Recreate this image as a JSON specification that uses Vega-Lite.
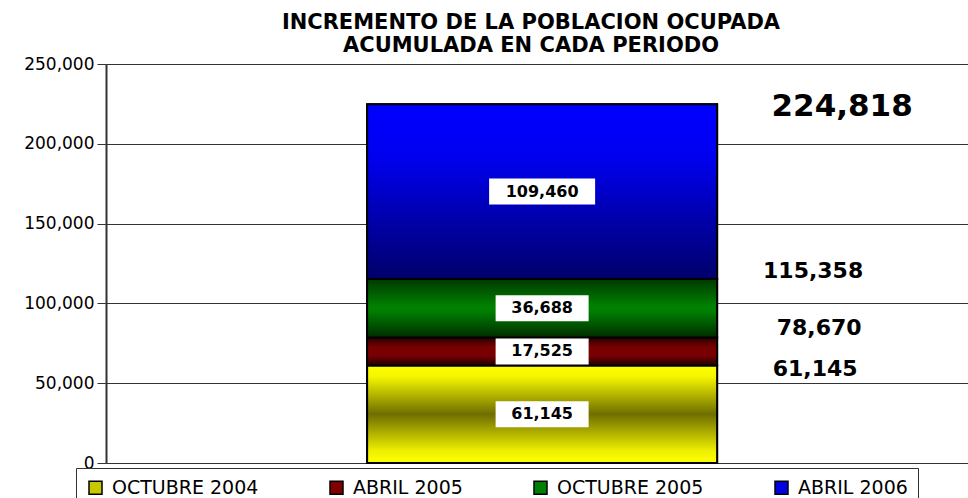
{
  "$schema": "https://vega.github.io/schema/vega-lite/v6.json",
  "width": 862,
  "height": 399,
  "autosize": {"type": "none"},
  "padding": {"left": 106, "top": 64, "right": 0, "bottom": 35},
  "background": "white",
  "title": {
    "text": ["INCREMENTO DE LA POBLACION OCUPADA", "ACUMULADA EN CADA PERIODO"],
    "font": "DejaVu Sans",
    "fontSize": 21,
    "fontWeight": "bold",
    "color": "black",
    "anchor": "middle",
    "frame": "group",
    "dx": -6,
    "offset": -1,
    "lineHeight": 23
  },
  "data": {
    "values": [
      {"grupo": "Total", "periodo": "OCTUBRE 2004", "orden": 1, "valor": 61145},
      {"grupo": "Total", "periodo": "ABRIL 2005", "orden": 2, "valor": 17525},
      {"grupo": "Total", "periodo": "OCTUBRE 2005", "orden": 3, "valor": 36688},
      {"grupo": "Total", "periodo": "ABRIL 2006", "orden": 4, "valor": 109460}
    ]
  },
  "transform": [
    {"stack": "valor", "groupby": ["grupo"], "sort": [{"field": "orden", "order": "ascending"}], "as": ["y0", "y1"]},
    {"calculate": "(datum.y0 + datum.y1) / 2", "as": "ymedio"}
  ],
  "encoding": {
    "x": {
      "field": "grupo",
      "type": "nominal",
      "axis": null,
      "scale": {"paddingInner": 0, "paddingOuter": 0.7314, "align": 0.51}
    }
  },
  "layer": [
    {
      "mark": {"type": "bar", "stroke": "black", "strokeWidth": 2},
      "encoding": {
        "y": {
          "field": "y0",
          "type": "quantitative",
          "title": null,
          "scale": {"domain": [0, 250000], "nice": false, "zero": true},
          "axis": {"values": [0, 50000, 100000, 150000, 200000, 250000], "format": ",.0f", "title": null}
        },
        "y2": {"field": "y1"},
        "color": {
          "field": "periodo",
          "type": "nominal",
          "sort": ["OCTUBRE 2004", "ABRIL 2005", "OCTUBRE 2005", "ABRIL 2006"],
          "scale": {
            "domain": ["OCTUBRE 2004", "ABRIL 2005", "OCTUBRE 2005", "ABRIL 2006"],
            "range": ["#c8c800", "#800000", "#008000", "#0000e0"]
          },
          "legend": {
            "title": null,
            "orient": "none",
            "legendX": -30,
            "legendY": 404,
            "direction": "horizontal",
            "symbolType": "square",
            "symbolSize": 169,
            "symbolStrokeColor": "black",
            "symbolStrokeWidth": 1.5,
            "symbolOpacity": 1,
            "labelFont": "DejaVu Sans",
            "labelFontSize": 19,
            "labelColor": "black",
            "labelOffset": 7,
            "columnPadding": 68,
            "padding": 10,
            "strokeColor": "#333333",
            "fillColor": "white"
          }
        }
      }
    },
    {
      "transform": [{"filter": "datum.orden == 1"}],
      "mark": {
        "type": "bar", "stroke": "black", "strokeWidth": 2,
        "fill": {"gradient": "linear", "x1": 0, "y1": 0, "x2": 0, "y2": 1,
          "stops": [{"offset": 0, "color": "#ffff00"}, {"offset": 0.12, "color": "#f4f400"}, {"offset": 0.5, "color": "#6e6e00"}, {"offset": 0.88, "color": "#f0f000"}, {"offset": 1, "color": "#ffff00"}]}
      },
      "encoding": {"y": {"field": "y0", "type": "quantitative", "title": null}, "y2": {"field": "y1"}}
    },
    {
      "transform": [{"filter": "datum.orden == 2"}],
      "mark": {
        "type": "bar", "stroke": "black", "strokeWidth": 2,
        "fill": {"gradient": "linear", "x1": 0, "y1": 0, "x2": 0, "y2": 1,
          "stops": [{"offset": 0, "color": "#2a0000"}, {"offset": 0.35, "color": "#780000"}, {"offset": 0.65, "color": "#780000"}, {"offset": 1, "color": "#220000"}]}
      },
      "encoding": {"y": {"field": "y0", "type": "quantitative", "title": null}, "y2": {"field": "y1"}}
    },
    {
      "transform": [{"filter": "datum.orden == 3"}],
      "mark": {
        "type": "bar", "stroke": "black", "strokeWidth": 2,
        "fill": {"gradient": "linear", "x1": 0, "y1": 0, "x2": 0, "y2": 1,
          "stops": [{"offset": 0, "color": "#003800"}, {"offset": 0.45, "color": "#007f00"}, {"offset": 0.55, "color": "#007f00"}, {"offset": 1, "color": "#002c00"}]}
      },
      "encoding": {"y": {"field": "y0", "type": "quantitative", "title": null}, "y2": {"field": "y1"}}
    },
    {
      "transform": [{"filter": "datum.orden == 4"}],
      "mark": {
        "type": "bar", "stroke": "black", "strokeWidth": 2,
        "fill": {"gradient": "linear", "x1": 0, "y1": 0, "x2": 0, "y2": 1,
          "stops": [{"offset": 0, "color": "#0000ff"}, {"offset": 0.3, "color": "#0000f0"}, {"offset": 1, "color": "#00006a"}]}
      },
      "encoding": {"y": {"field": "y0", "type": "quantitative", "title": null}, "y2": {"field": "y1"}}
    },
    {
      "mark": {"type": "tick", "thickness": 26, "color": "white", "opacity": 1, "orient": "horizontal"},
      "encoding": {
        "y": {"field": "ymedio", "type": "quantitative", "title": null},
        "size": {"condition": {"test": "datum.valor >= 100000", "value": 106}, "value": 93}
      }
    },
    {
      "mark": {"type": "text", "fontWeight": "bold", "fontSize": 16, "color": "black", "baseline": "middle", "align": "center", "font": "DejaVu Sans"},
      "encoding": {
        "y": {"field": "ymedio", "type": "quantitative", "title": null},
        "text": {"field": "valor", "type": "quantitative", "format": ",.0f"}
      }
    },
    {
      "transform": [{"filter": "datum.orden == 4"}],
      "mark": {"type": "text", "fontWeight": "bold", "fontSize": 31, "color": "black", "baseline": "middle", "align": "center", "dx": 300, "dy": 3, "font": "DejaVu Sans"},
      "encoding": {
        "y": {"field": "y1", "type": "quantitative", "title": null},
        "text": {"field": "y1", "type": "quantitative", "format": ",.0f"}
      }
    },
    {
      "transform": [{"filter": "datum.orden == 3"}],
      "mark": {"type": "text", "fontWeight": "bold", "fontSize": 22, "color": "black", "baseline": "middle", "align": "center", "dx": 271, "dy": -8, "font": "DejaVu Sans"},
      "encoding": {
        "y": {"field": "y1", "type": "quantitative", "title": null},
        "text": {"field": "y1", "type": "quantitative", "format": ",.0f"}
      }
    },
    {
      "transform": [{"filter": "datum.orden == 2"}],
      "mark": {"type": "text", "fontWeight": "bold", "fontSize": 22, "color": "black", "baseline": "middle", "align": "center", "dx": 277, "dy": -9, "font": "DejaVu Sans"},
      "encoding": {
        "y": {"field": "y1", "type": "quantitative", "title": null},
        "text": {"field": "y1", "type": "quantitative", "format": ",.0f"}
      }
    },
    {
      "transform": [{"filter": "datum.orden == 1"}],
      "mark": {"type": "text", "fontWeight": "bold", "fontSize": 22, "color": "black", "baseline": "middle", "align": "center", "dx": 273, "dy": 4, "font": "DejaVu Sans"},
      "encoding": {
        "y": {"field": "y1", "type": "quantitative", "title": null},
        "text": {"field": "y1", "type": "quantitative", "format": ",.0f"}
      }
    }
  ],
  "config": {
    "view": {"stroke": null},
    "font": "DejaVu Sans",
    "axisY": {
      "labelFont": "DejaVu Sans",
      "labelFontSize": 17,
      "labelColor": "black",
      "labelPadding": 3,
      "labelExpr": "format(datum.value, ',.0f')",
      "tickSize": 9,
      "tickColor": "#333333",
      "tickWidth": 1,
      "domainColor": "#333333",
      "domainWidth": 2,
      "gridColor": "#333333",
      "gridWidth": 1,
      "grid": true
    }
  }
}
